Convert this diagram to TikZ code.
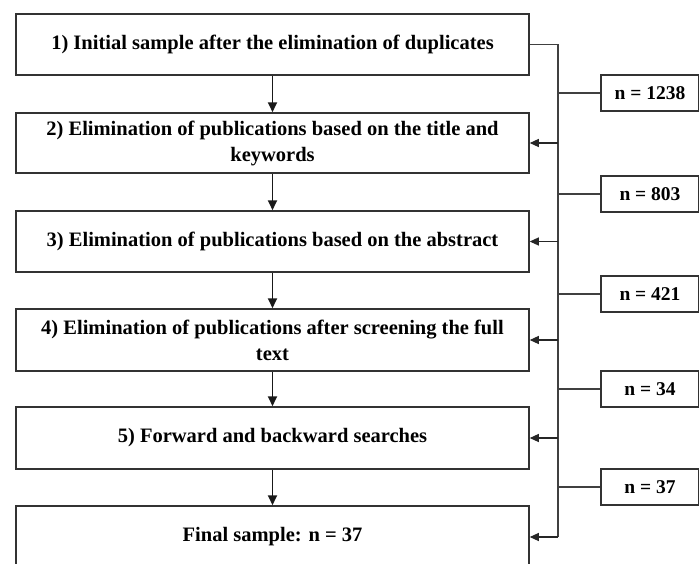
\documentclass[tikz,border=0pt]{standalone}
\usepackage{fontspec}
\setmainfont{Liberation Serif}
\usetikzlibrary{arrows.meta}
\begin{document}
\begin{tikzpicture}[x=1pt,y=-1pt,
  mainbox/.style={draw=black!80,line width=1.5pt,minimum width=513pt,minimum height=61pt,inner sep=0pt,align=center,font=\fontsize{20.5}{26}\selectfont\bfseries},
  nbox/.style={draw=black!80,line width=1.5pt,minimum width=98pt,minimum height=36pt,inner sep=0pt,font=\fontsize{19.5}{25}\selectfont\bfseries},
  arr/.style={-{Triangle[length=10pt,width=9pt]},line width=1.8pt,draw=black!90},
  sidearr/.style={-{Triangle[length=9pt,width=8pt]},line width=1.1pt,draw=black!85},
  thin/.style={line width=1.1pt,draw=black!75}]
\useasboundingbox (0,0) rectangle (699,563);
\clip (0,0) rectangle (699,563);
\node[mainbox] (b1) at (272.5,44.5) {1) Initial sample after the elimination of duplicates};
\node[mainbox,minimum height=60pt] (b2) at (272.5,143) {2) Elimination of publications based on the title and\\keywords};
\node[mainbox] (b3) at (272.5,241.5) {3) Elimination of publications based on the abstract};
\node[mainbox,minimum height=62pt] (b4) at (272.5,340) {4) Elimination of publications after screening the full\\text};
\node[mainbox,minimum height=62pt] (b5) at (272.5,438) {5) Forward and backward searches};
\node[mainbox,minimum height=62pt] (b6) at (272.5,537) {Final sample: n = 37};
\node[nbox] (n1) at (650,93) {n = 1238};
\node[nbox] (n2) at (650,194) {n = 803};
\node[nbox] (n3) at (650,294) {n = 421};
\node[nbox] (n4) at (650,389) {n = 34};
\node[nbox] (n5) at (650,487) {n = 37};
\coordinate (spine) at (558,0);
\foreach \a/\b in {b1/b2,b2/b3,b3/b4,b4/b5,b5/b6}
  \draw[arr] (\a.south) -- (\b.north);
\draw[thin] (b1.east) -- (b1.east -| spine) -- (b6.east -| spine);
\foreach \b in {b2,b3,b4,b5,b6}
  \draw[sidearr] (\b.east -| spine) -- (\b.east);
\foreach \n in {n1,n2,n3,n4,n5}
  \draw[thin] (\n.west) -- (\n.west -| spine);
\end{tikzpicture}
\end{document}
